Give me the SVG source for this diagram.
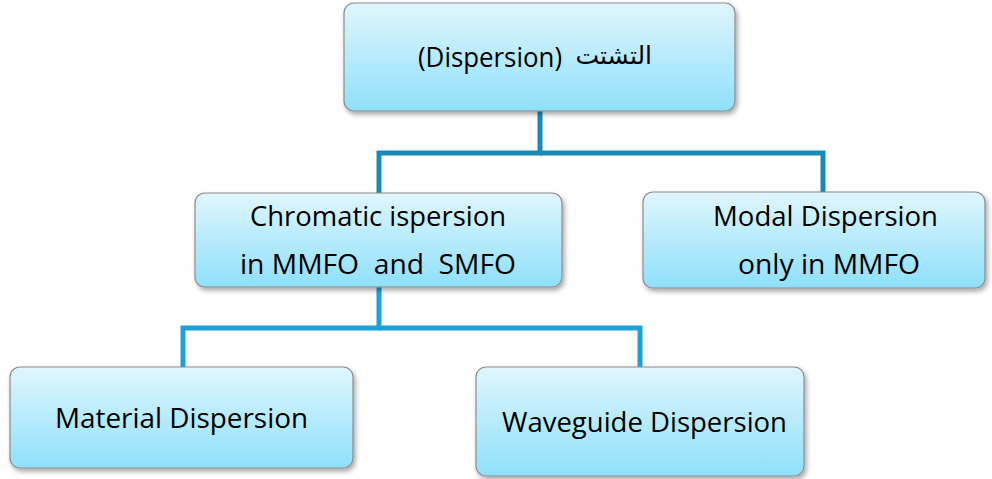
<svg xmlns="http://www.w3.org/2000/svg" width="992" height="479" viewBox="0 0 992 479">
  <defs>
    <linearGradient id="boxFill" x1="0" y1="0" x2="0" y2="1">
      <stop offset="0" stop-color="#e0f6fd"/>
      <stop offset="1" stop-color="#8fe0fb"/>
    </linearGradient>
    <filter id="shadow" x="-10%" y="-10%" width="130%" height="140%">
      <feDropShadow dx="2" dy="3" stdDeviation="2.5" flood-color="#000" flood-opacity="0.35"/>
    </filter>
  </defs>
  <style>
    .box { fill: url(#boxFill); stroke: #8c8c8c; stroke-width: 1.2; filter: url(#shadow); }
    .lbl { font-family: "Open Sans", "DejaVu Sans", sans-serif; font-size: 28px; fill: #000; }
    .ar { font-family: "DejaVu Sans", sans-serif; font-size: 25px; fill: #000; }
    .upper { fill: none; stroke: #1a8bb6; stroke-width: 5; }
    .lower { fill: none; stroke: #1ca2d9; stroke-width: 5; }
  </style>

  <rect width="992" height="479" fill="#ffffff"/>

  <!-- connectors -->
  <g id="connectors">
    <polyline class="upper" points="540,111 540,153 379,153 379,193"/>
    <polyline class="upper" points="540,153 823,153 823,192"/>
    <polyline class="lower" points="379,287 379,328 183,328 183,367"/>
    <polyline class="lower" points="379,328 640,328 640,367"/>
  </g>

  <!-- root node -->
  <g id="node-dispersion">
    <rect class="box" x="344" y="3" width="391" height="108" rx="10"/>
    <text class="lbl" x="418" y="67" textLength="144" lengthAdjust="spacingAndGlyphs">(Dispersion)</text>
    <text class="ar" x="652" y="64" text-anchor="end">التشتت</text>
  </g>

  <!-- chromatic dispersion -->
  <g id="node-chromatic">
    <rect class="box" x="195" y="193" width="367" height="94" rx="10"/>
    <text class="lbl" x="250" y="226" textLength="256" lengthAdjust="spacingAndGlyphs">Chromatic ispersion</text>
    <text class="lbl" x="240" y="274" textLength="276" lengthAdjust="spacingAndGlyphs" xml:space="preserve">in MMFO  and  SMFO</text>
  </g>

  <!-- modal dispersion -->
  <g id="node-modal">
    <rect class="box" x="643" y="192" width="342" height="96" rx="10"/>
    <text class="lbl" x="713" y="226" textLength="225" lengthAdjust="spacingAndGlyphs">Modal Dispersion</text>
    <text class="lbl" x="738" y="274" textLength="182" lengthAdjust="spacingAndGlyphs">only in MMFO</text>
  </g>

  <!-- material dispersion -->
  <g id="node-material">
    <rect class="box" x="10" y="367" width="343" height="101" rx="10"/>
    <text class="lbl" x="55" y="428" textLength="253" lengthAdjust="spacingAndGlyphs">Material Dispersion</text>
  </g>

  <!-- waveguide dispersion -->
  <g id="node-waveguide">
    <rect class="box" x="476" y="367" width="328" height="109" rx="10"/>
    <text class="lbl" x="502" y="432" textLength="285" lengthAdjust="spacingAndGlyphs">Waveguide Dispersion</text>
  </g>
</svg>
